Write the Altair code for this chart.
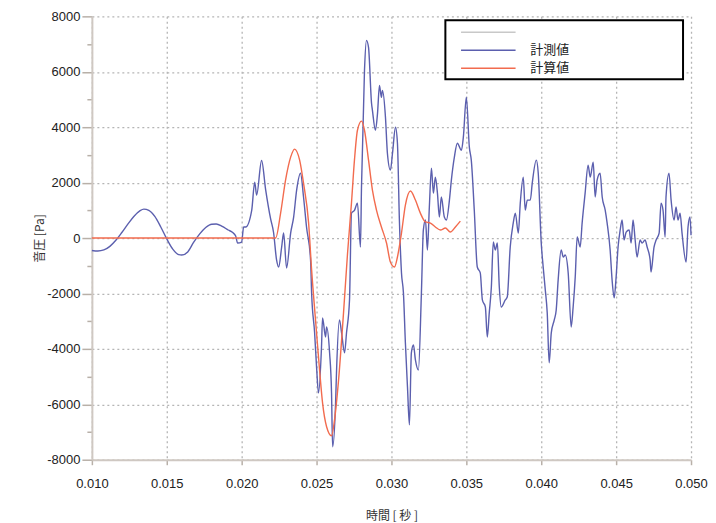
import altair as alt
import pandas as pd

# 計測値 (measured) – time [s], pressure [Pa]
meas_t = [0.0100, 0.0104, 0.0108, 0.0112, 0.0116, 0.0120, 0.0124, 0.0128, 0.0132, 0.01347,
          0.0138, 0.0142, 0.0146, 0.0150, 0.0154, 0.0158, 0.0160, 0.0164, 0.0168, 0.0172,
          0.0176, 0.0180, 0.0183, 0.0187, 0.0191, 0.0194, 0.0196, 0.01973, 0.0200, 0.02013,
          0.02027, 0.02067, 0.02087, 0.0210, 0.02133, 0.0216, 0.02193, 0.02213, 0.02233, 0.02247,
          0.02267, 0.0228, 0.0230, 0.02327, 0.02347, 0.02367, 0.02393, 0.02413, 0.02433, 0.0246,
          0.02467, 0.02487, 0.0250, 0.02513, 0.02533, 0.0254, 0.0256, 0.02567, 0.02587, 0.0260,
          0.02607, 0.02627, 0.02633, 0.02653, 0.02667, 0.02687, 0.0270, 0.0272, 0.02733, 0.02753,
          0.02773, 0.02793, 0.0280, 0.0282, 0.02833, 0.02847, 0.02867, 0.02873, 0.02893, 0.02907,
          0.0292, 0.02933, 0.0294, 0.0296, 0.02973, 0.02993, 0.03007, 0.03027, 0.0304, 0.03053,
          0.03067, 0.0308, 0.03093, 0.03107, 0.0312, 0.03133, 0.03147, 0.0316, 0.0318, 0.0320,
          0.03213, 0.03227, 0.0324, 0.03253, 0.03267, 0.0328, 0.03293, 0.03307, 0.0332, 0.03333,
          0.03353, 0.03367, 0.03387, 0.0340, 0.0342, 0.0344, 0.03467, 0.0348, 0.0350, 0.0352,
          0.03533, 0.03553, 0.03573, 0.03593, 0.03607, 0.03627, 0.0364, 0.03653, 0.03667, 0.0368,
          0.03693, 0.03707, 0.0372, 0.03733, 0.0376, 0.03773, 0.03793, 0.03813, 0.03827, 0.03847,
          0.0386, 0.0388, 0.03893, 0.03907, 0.03927, 0.0394, 0.03967, 0.0398, 0.0400, 0.04013,
          0.04027, 0.0404, 0.04053, 0.04067, 0.04087, 0.0410, 0.04113, 0.04133, 0.04147, 0.0416,
          0.0418, 0.0420, 0.04213, 0.04227, 0.0424, 0.0426, 0.04273, 0.04293, 0.04313, 0.04327,
          0.04347, 0.0436, 0.04373, 0.04393, 0.04407, 0.04427, 0.0444, 0.0446, 0.04473, 0.04487,
          0.0450, 0.04513, 0.04527, 0.0454, 0.04553, 0.04567, 0.04587, 0.0460, 0.04613, 0.04627,
          0.0464, 0.0466, 0.04673, 0.04693, 0.04707, 0.04727, 0.04733, 0.04753, 0.04767, 0.04787,
          0.0480, 0.04813, 0.04827, 0.04833, 0.04853, 0.04867, 0.04887, 0.0490, 0.04913, 0.04927,
          0.0494, 0.04967, 0.0498, 0.04993, 0.0500]
meas_p = [-450, -470, -430, -300, -80, 200, 500, 780, 980, 1045,
          1000, 780, 400, -30, -400, -600, -613, -500, -150, 150,
          380, 500, 505, 420, 290, 200, 72, -180, -144, 400,
          400, 1000, 2018, 1550, 2800, 1750, 700, 200, -790, -1045,
          -324, 180, -1080, 180, 757, 1730, 2340, 1480, 400, -790,
          -1980, -3420, -4650, -5590, -3930, -2880, -3570, -3210, -4140, -5590,
          -7530, -5950, -4870, -2955, -3420, -4140, -3420, -2235, 900, 1000,
          1260, -324, 1840, 6055, 7135, 6880, 4865, 4610, 3890, 4500,
          5510, 5080, 5330, 4360, 3060, 2450, 3060, 4000, 3420, 650,
          -1260, -1980, -3780, -5370, -6740, -4140, -3860, -4400, -4760, -1980,
          290, 650, -430, 1120, 2520, 1620, 2200, 1620, 760, 1480,
          760, 650, 1370, 2090, 2920, 3420, 3170, 3640, 5080, 3280,
          2810, 1000, -1045, -1260, -2235, -2490, -3570, -2700, -1765, -144,
          -430, -180, -1765, -2490, -2235, -2130, -324, 540, 900, 180,
          1260, 2200, 1010, 1370, 1370, 1980, 2810, 2340, -180, -1045,
          -1870, -2700, -4500, -3420, -2955, -2595, -1510, -430, -685, -613,
          -1260, -3210, -2490, -1400, 40, -324, 540, 1620, 2630, 2200,
          2740, 1480, 2090, 2340, 1480, 1010, 540, -430, -1510, -2160,
          -1400, -324, 290, 650, -72, 216, 290, -180, 650, -72,
          -685, -72, -180, -72, -324, -790, -1225, -324, -72, 180,
          1260, 1010, 40, 1480, 2340, 1370, 650, 1120, 650, 900,
          180, -865, 400, 760, 100]

# 計算値 (calculated)
calc_t = [0.0100, 0.02227, 0.0226, 0.02293, 0.02327, 0.02353, 0.02387, 0.02413, 0.02447, 0.02467,
          0.02493, 0.0252, 0.0254, 0.02567, 0.0260, 0.0262, 0.02647, 0.0268, 0.02707, 0.02733,
          0.02753, 0.02773, 0.0280, 0.0282, 0.02847, 0.02873, 0.0290, 0.02933, 0.02967, 0.02993,
          0.0302, 0.0304, 0.03067, 0.03093, 0.03127, 0.0316, 0.03193, 0.03227, 0.0326, 0.03293,
          0.03327, 0.0336, 0.03393, 0.03427, 0.0346]
calc_p = [0, 0, 900, 2090, 2920, 3210, 2810, 1980, 540, -1150,
          -2955, -4760, -5950, -6810, -7135, -6560, -5120, -2700, -540, 1260,
          2810, 3890, 4220, 3890, 2810, 1730, 1010, 400, -180, -865,
          -1045, -685, 180, 1190, 1700, 1370, 900, 580, 540, 400,
          290, 360, 216, 400, 610]

series_names = ["", "計測値", "計算値"]
series_colors = ["#c8c8c8", "#5b5fae", "#f26b4e"]

x_ticks = [0.010, 0.015, 0.020, 0.025, 0.030, 0.035, 0.040, 0.045, 0.050]
y_ticks = list(range(-8000, 8001, 1000))

df = pd.concat([
    pd.DataFrame({"t": meas_t, "p": meas_p, "series": series_names[1]}),
    pd.DataFrame({"t": calc_t, "p": calc_p, "series": series_names[2]}),
], ignore_index=True)

chart = alt.Chart(df).mark_line(strokeWidth=1.4, interpolate="monotone").encode(
    x=alt.X("t:Q",
            scale=alt.Scale(domain=[0.010, 0.050], nice=False),
            axis=alt.Axis(values=x_ticks, format=".3f", title="時間 [ 秒 ]",
                          tickSize=5, labelPadding=13, titlePadding=20,
                          labelFlush=False, titleFontSize=12)),
    y=alt.Y("p:Q",
            scale=alt.Scale(domain=[-8000, 8000], nice=False),
            axis=alt.Axis(values=y_ticks,
                          labelExpr="datum.value % 2000 === 0 ? '' + datum.value : ''",
                          gridOpacity={"condition": {"test": "datum.value % 2000 !== 0", "value": 0}, "value": 1},
                          tickSize={"condition": {"test": "datum.value % 2000 !== 0", "value": 5}, "value": 10},
                          title="音圧 [Pa]", labelPadding=2, titlePadding=0,
                          labelFlush=False, titleFontSize=12)),
    color=alt.Color("series:N",
                    scale=alt.Scale(domain=series_names, range=series_colors),
                    legend=alt.Legend(title="計測値計測値計測", titleOrient="right",
                                      titleOpacity=0, titlePadding=5, titleFontSize=13,
                                      orient="none", legendX=354, legendY=4,
                                      symbolType="M-3.9,0H3.9", symbolSize=196, symbolStrokeWidth=1.5,
                                      labelFontSize=13, labelOffset=34, rowPadding=3,
                                      padding=4, symbolOffset=31,
                                      fillColor="white", strokeColor="black")),
    detail="series:N",
).properties(
    width=600, height=444,
    padding={"left": 25, "top": 2, "right": 0, "bottom": 0},
).configure(
    font="Liberation Sans, Noto Sans CJK JP, sans-serif",
).configure_view(
    stroke=None,
).configure_axis(
    labelFontSize=13, labelColor="#222", titleColor="#333", titleFontWeight="normal",
    domainColor="#cfc8c2", domainWidth=2, tickColor="#b8b0a8", tickWidth=1.5,
    gridColor="#b5b5b5", gridDash=[2, 3], gridWidth=1.3,
    labelFont="Liberation Sans", titleFont="Noto Sans CJK JP",
).configure_legend(
    strokeWidth=2, labelFont="Noto Sans CJK JP", titleFont="Noto Sans CJK JP", labelColor="#222",
)

chart.save("out.html", embed_options={"renderer": "svg", "actions": False})
